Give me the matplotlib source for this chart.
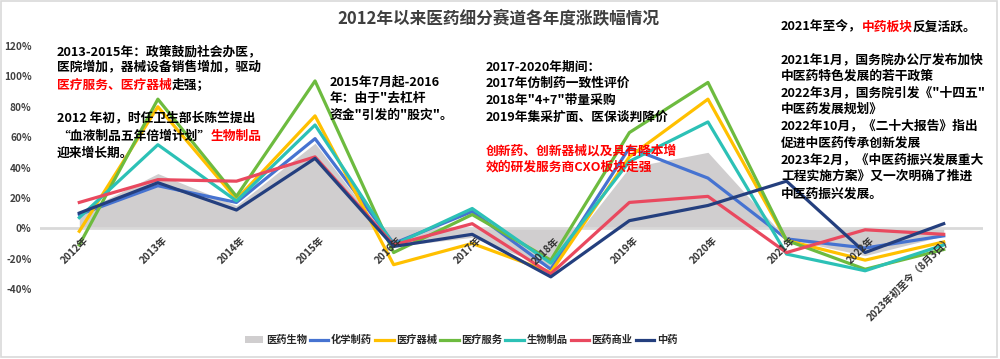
import matplotlib as mpl
import matplotlib.pyplot as plt
import matplotlib.transforms as mtransforms
from matplotlib.patches import Rectangle, Patch
from matplotlib.lines import Line2D
import numpy as np

plt.rcParams['font.family'] = ['Noto Sans CJK SC', 'DejaVu Sans']
plt.rcParams['axes.unicode_minus'] = False

# ---- data (annual change, %) ----
years = ['2012年', '2013年', '2014年', '2015年', '2016年', '2017年', '2018年',
         '2019年', '2020年', '2021年', '2022年', '2023年初至今（8月3日）']

pharma_bio = [10, 36, 15, 56, -12, -6, -26, 40, 50, -7, -18, -5]      # 医药生物 (area)
chem_pharma = [9, 28, 17, 59, -10, 11, -27, 53, 33, -7, -13, -5]      # 化学制药
med_device = [-2, 80, 19, 74, -24, -10, -29, 47, 85, -8, -21, -9]     # 医疗器械
med_service = [-11, 85, 21, 97, -16, 9, -21, 63, 96, -8, -27, -14]    # 医疗服务
bio_products = [7, 55, 18, 68, -11, 13, -23, 44, 70, -17, -28, -11]   # 生物制品
pharma_commerce = [17, 32, 31, 47, -11, 3, -30, 17, 21, -16, -1, -4]  # 医药商业
tcm = [10, 30, 12, 46, -12, -4, -32, 5, 15, 31, -16, 3]               # 中药

line_series = [
    ('化学制药', chem_pharma, '#4673d1'),
    ('医疗器械', med_device, '#ffc000'),
    ('医疗服务', med_service, '#6dbb3f'),
    ('生物制品', bio_products, '#2cc1b6'),
    ('医药商业', pharma_commerce, '#e9495f'),
    ('中药', tcm, '#243f7e'),
]

W, H = 1000, 359
fig = plt.figure(figsize=(W / 100, H / 100), dpi=100)


def fx(px):
    return px / W


def fy(py):
    return 1 - py / H


# border
fig.patches.append(Rectangle((fx(1), fy(357)), fx(996), 356 / H, transform=fig.transFigure,
                             fill=False, edgecolor='#d9d9d9', lw=1.2))

ax = fig.add_axes([fx(40), fy(289), fx(983) - fx(40), fy(46) - fy(289)])
x = np.arange(len(years))

ax.fill_between(x, 0, np.array(pharma_bio) / 100, color='#d0cecf', lw=0, zorder=1)
ax.axhline(0, color='#d9d9d9', lw=2, zorder=1.5)
for name, vals, col in line_series:
    ax.plot(x, np.array(vals) / 100, color=col, lw=2.3, zorder=2)

ax.set_xlim(-0.5, len(years) - 0.5)
ax.set_ylim(-0.4, 1.2)
ax.set_yticks(np.arange(-0.4, 1.21, 0.2))
ax.set_yticklabels(['%d%%' % round(v * 100) for v in np.arange(-0.4, 1.21, 0.2)],
                   fontsize=7.2, color='#404040', fontweight='bold')
ax.tick_params(axis='y', length=0, pad=6)
ax.set_xticks([])
for s in ax.spines.values():
    s.set_visible(False)
ax.patch.set_alpha(0)

off = mtransforms.offset_copy(ax.transData, fig=fig, x=4, y=-7, units='dots')
for i, lab in enumerate(years):
    ax.text(i, 0, lab, transform=off, rotation=45, rotation_mode='anchor',
            ha='right', va='top', fontsize=7.2, color='#333333', fontweight='bold')

# title
fig.text(fx(498), fy(19), '2012年以来医药细分赛道各年度涨跌幅情况', ha='center', va='center',
         fontsize=12, fontweight='bold', color='#3f3f3f')

# annotations with mixed colors
renderer = fig.canvas.get_renderer()
FS = 9.2


def rich_line(px, py, parts):
    xpos = fx(px)
    for txt, col in parts:
        t = fig.text(xpos, fy(py), txt, ha='left', va='center', fontsize=FS,
                     fontweight='bold', color=col)
        bb = t.get_window_extent(renderer=renderer)
        xpos = bb.x1 / W


K, R = 'black', '#ff0000'

block1 = [
    (52, [('2013-2015年：政策鼓励社会办医，', K)]),
    (68, [('医院增加，器械设备销售增加，驱动', K)]),
    (85, [('医疗服务、医疗器械', R), ('走强；', K)]),
    (118, [('2012 年初，时任卫生部长陈竺提出', K)]),
    (136, [('“血液制品五年倍增计划”', K), ('生物制品', R)]),
    (153, [('迎来增长期。', K)]),
]
for py, parts in block1:
    rich_line(57, py, parts)

block2 = [
    (82, [('2015年7月起-2016', K)]),
    (98, [('年：由于"去杠杆', K)]),
    (115, [('资金"引发的"股灾"。', K)]),
]
for py, parts in block2:
    rich_line(330, py, parts)

block3 = [
    (67, [('2017-2020年期间：', K)]),
    (83, [('2017年仿制药一致性评价', K)]),
    (100, [('2018年"4+7"带量采购', K)]),
    (117, [('2019年集采扩面、医保谈判降价', K)]),
    (151, [('创新药、创新器械以及具有降本增', R)]),
    (167, [('效的研发服务商CXO板块走强', R)]),
]
for py, parts in block3:
    rich_line(486, py, parts)

block4 = [
    (27, [('2021年至今，', K), ('中药板块', R), ('反复活跃。', K)]),
    (60, [('2021年1月，国务院办公厅发布加快', K)]),
    (76, [('中医药特色发展的若干政策', K)]),
    (93, [('2022年3月，国务院引发《"十四五"', K)]),
    (109, [('中医药发展规划》', K)]),
    (126, [('2022年10月，《二十大报告》指出', K)]),
    (143, [('促进中医药传承创新发展', K)]),
    (160, [('2023年2月，《中医药振兴发展重大', K)]),
    (176, [('工程实施方案》又一次明确了推进', K)]),
    (194, [('中医药振兴发展。', K)]),
]
for py, parts in block4:
    rich_line(781, py, parts)

# legend
handles = [Patch(facecolor='#d0cecf', edgecolor='none')]
labels = ['医药生物']
for name, vals, col in line_series:
    handles.append(Line2D([0], [0], color=col, lw=2.3))
    labels.append(name)
fig.legend(handles, labels, loc='center', bbox_to_anchor=(fx(461), fy(340)), ncol=7,
           frameon=False, handlelength=1.8, handletextpad=0.25, columnspacing=0.3,
           prop={'size': 7.4, 'weight': 'bold'}, labelcolor='#262626')

fig.savefig('out.png', dpi=100)
